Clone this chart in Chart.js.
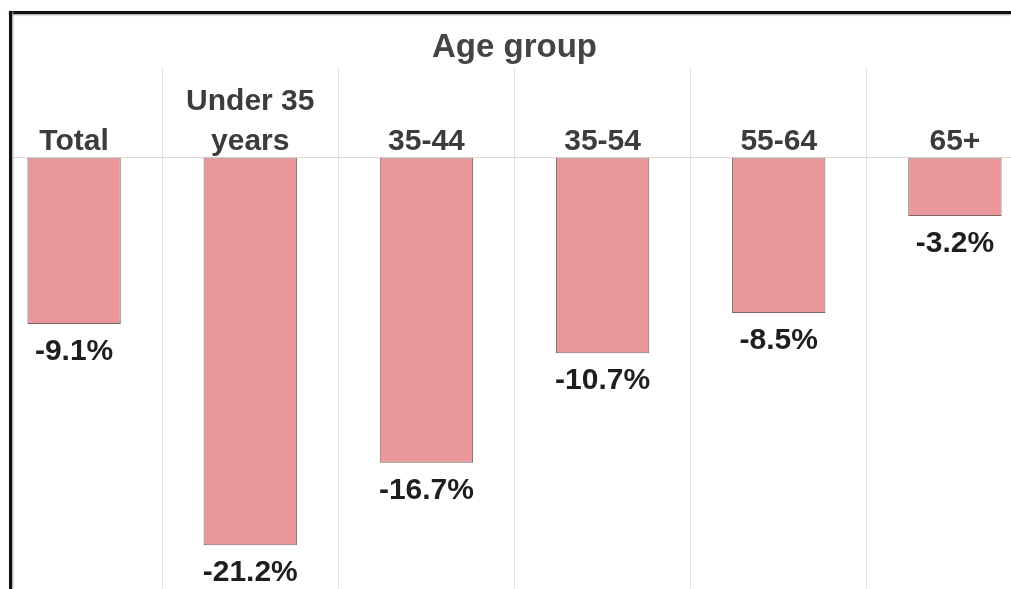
<!DOCTYPE html>
<html lang="en">
<head>
  <meta charset="UTF-8">
  <title>Age group</title>
  <script src="https://cdn.jsdelivr.net/npm/chart.js"></script>
  <style>
    html, body { margin: 0; padding: 0; background: #fff; overflow: hidden; }
    body { width: 1011px; height: 589px; position: relative; }
    #wrap { position: absolute; left: -14px; top: 0; width: 1057px; height: 589px; }
    .edge { position: absolute; background: #111; }
    #maskLeft { position: absolute; left: 0; top: 0; width: 9px; height: 589px; background: #fff; }
    #edgeTop { left: 9px; top: 11px; width: 1002px; height: 3px; box-shadow: 0 1px 2px #999; }
    #edgeLeft { left: 9px; top: 11px; width: 3px; height: 578px; box-shadow: 1px 0 2px #999; }
  </style>
</head>
<body>
  <div id="wrap"><canvas id="myChart"></canvas></div>
  <div id="maskLeft"></div>
  <div class="edge" id="edgeTop"></div>
  <div class="edge" id="edgeLeft"></div>

  <script>
    let categorie = ['Total', ['Under 35', 'years'], '35-44', '35-54', '55-64', '65+'];
    let valori = [-9.1, -21.2, -16.7, -10.7, -8.5, -3.2];
    let titolo = 'Age group';

    const fontFamily = '"Liberation Sans", Arial, sans-serif';

    // etichette dei valori sotto ogni barra
    const etichetteValori = {
      id: 'etichetteValori',
      afterDatasetsDraw(chart) {
        const ctx = chart.ctx;
        const meta = chart.getDatasetMeta(0);
        ctx.save();
        ctx.font = 'bold 30px ' + fontFamily;
        ctx.fillStyle = '#1e1e1e';
        ctx.textAlign = 'center';
        ctx.textBaseline = 'middle';
        meta.data.forEach((bar, i) => {
          ctx.fillText(valori[i].toFixed(1) + '%', bar.x, bar.y + 28);
        });
        ctx.restore();
      }
    };

    let ctx = document.getElementById('myChart').getContext('2d');
    let chart = new Chart(ctx, {
      type: 'bar',
      data: {
        labels: categorie,
        datasets: [{
          data: valori,
          backgroundColor: 'rgb(233, 151, 155)',
          borderColor: 'rgb(120, 100, 100)',
          borderWidth: 1,
          borderSkipped: false,
          categoryPercentage: 1,
          barPercentage: 0.53
        }]
      },
      options: {
        responsive: true,
        maintainAspectRatio: false,
        animation: false,
        layout: { padding: 0 },
        plugins: {
          legend: { display: false },
          tooltip: { enabled: false },
          title: {
            display: true,
            text: titolo,
            color: '#444',
            font: { family: fontFamily, size: 33, weight: 'bold', lineHeight: 1.2 },
            padding: { top: 28, bottom: 0 }
          }
        },
        scales: {
          x: {
            position: 'top',
            afterFit: s => { s.height = 90; },
            grid: {
              color: '#e2e2e2',
              lineWidth: 1,
              offset: true,
              drawTicks: true,
              tickLength: 91,
              tickColor: '#e2e2e2'
            },
            border: { display: true, color: '#d8d8d8', width: 1 },
            ticks: {
              color: '#3c3c3c',
              padding: -95,
              maxRotation: 0,
              autoSkip: false,
              font: { family: fontFamily, size: 30, weight: 'bold', lineHeight: 1.33 }
            }
          },
          y: {
            display: false,
            min: -23.6,
            max: 0
          }
        }
      },
      plugins: [etichetteValori]
    });
  </script>
</body>
</html>
